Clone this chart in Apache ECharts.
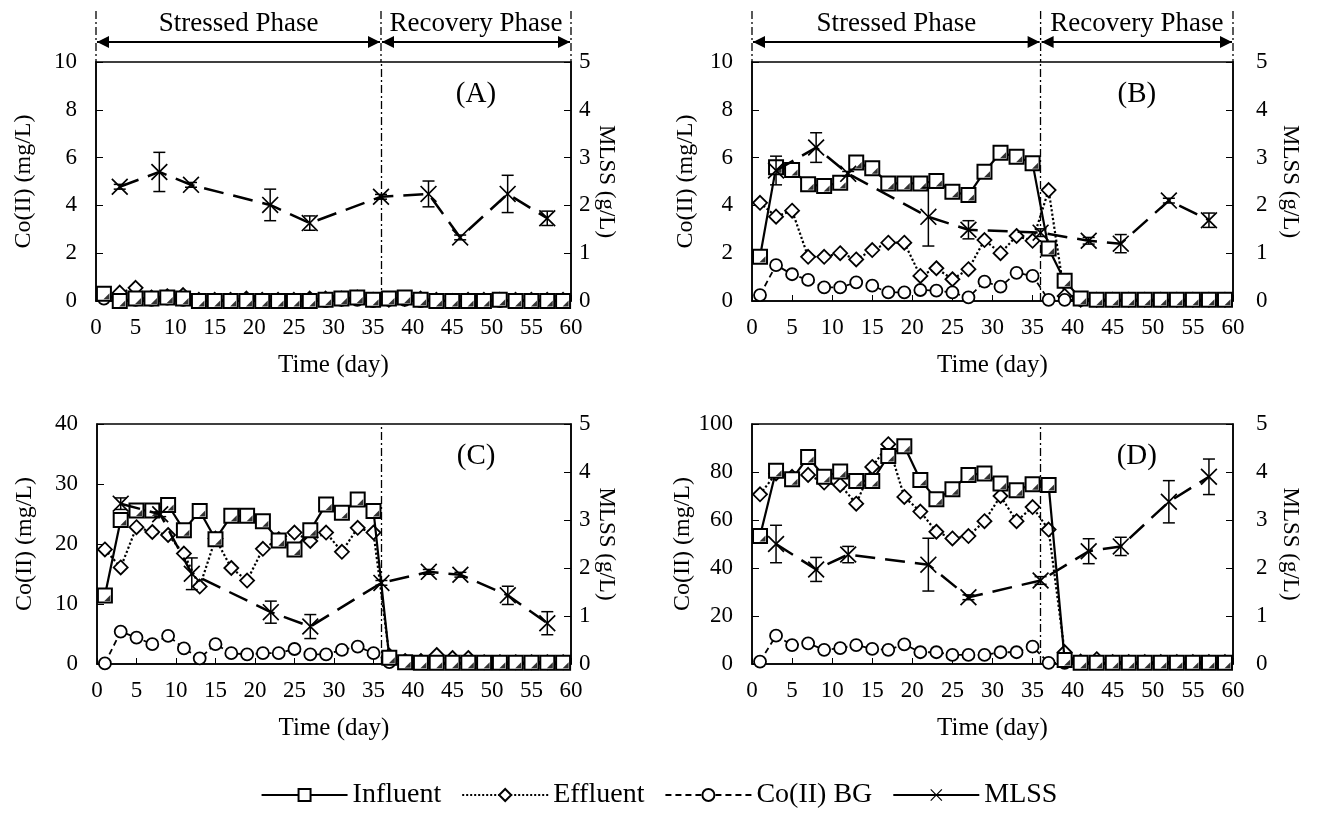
<!DOCTYPE html>
<html>
<head>
<meta charset="utf-8">
<script src="https://cdn.jsdelivr.net/npm/echarts@6/dist/echarts.min.js"></script>
<style>
  html, body { margin: 0; padding: 0; background: #fff; }
  #main { width: 1318px; height: 814px; }
</style>
</head>
<body>
<div id="main"></div>
<script>
// sampling days
var days = [1, 3, 5, 7, 9, 11, 13, 15, 17, 19, 21, 23, 25, 27, 29, 31, 33, 35,
            37, 39, 41, 43, 45, 47, 49, 51, 53, 55, 57, 59];
var mlssDays = [3, 8, 12, 22, 27, 36, 42, 46, 52, 57];
var phaseDay = 36;
var panelLabels = ['(A)', '(B)', '(C)', '(D)'];
var leftMax = [10, 10, 40, 100];
var leftStep = [2, 2, 10, 20];
var xTicks = [0, 60, 5];

// (A)
var influentA = [0.3, 0.0, 0.1, 0.1, 0.15, 0.1, 0.0, 0.0, 0.0, 0.0, 0.0, 0.0, 0.0, 0.0, 0.05, 0.1, 0.15, 0.05,
                 0.1, 0.15, 0.05, 0.0, 0.0, 0.0, 0.0, 0.05, 0.0, 0.0, 0.0, 0.0];
var effluentA = [0.2, 0.35, 0.55, 0.15, 0.2, 0.25, 0.05, 0.05, 0.05, 0.1, 0.05, 0.05, 0.05, 0.1, 0.1, 0.1, 0.15, 0.05,
                 0.05, 0.1, 0.1, 0.05, 0.0, 0.05, 0.05, 0.05, 0.05, 0.05, 0.05, 0.05];
var bgA = [0.1, 0.05, 0.05, 0.05, 0.1, 0.05, 0.0, 0.0, 0.0, 0.0, 0.0, 0.0, 0.0, 0.0, 0.0, 0.05, 0.05, 0.0,
           0.05, 0.05, 0.0, 0.0, 0.0, 0.0, 0.0, 0.0, 0.0, 0.0, 0.0, 0.0];
var mlssA = [2.39, 2.7, 2.43, 2.01, 1.63, 2.18, 2.24, 1.33, 2.24, 1.73];
var mlssErrA = [0.05, 0.41, 0.05, 0.33, 0.15, 0.05, 0.27, 0.05, 0.39, 0.15];

// (B)
var influentB = [1.85, 5.6, 5.48, 4.88, 4.81, 4.95, 5.79, 5.55, 4.92, 4.92, 4.92, 5.02, 4.57, 4.43, 5.41, 6.2, 6.04, 5.76,
                 2.2, 0.85, 0.1, 0.05, 0.05, 0.05, 0.05, 0.05, 0.05, 0.05, 0.05, 0.05];
var effluentB = [4.11, 3.53, 3.78, 1.85, 1.85, 2.0, 1.74, 2.13, 2.44, 2.44, 1.05, 1.37, 0.91, 1.33, 2.55, 2.0, 2.72, 2.52,
                 4.64, 0.21, 0.05, 0.05, 0.05, 0.05, 0.05, 0.05, 0.05, 0.05, 0.05, 0.05];
var bgB = [0.25, 1.5, 1.12, 0.88, 0.57, 0.57, 0.78, 0.64, 0.36, 0.36, 0.46, 0.43, 0.36, 0.15, 0.81, 0.6, 1.18, 1.05,
           0.05, 0.05, 0.05, 0.05, 0.05, 0.05, 0.05, 0.05, 0.05, 0.05, 0.05, 0.05];
var mlssB = [2.73, 3.21, 2.66, 1.76, 1.49, 1.43, 1.26, 1.2, 2.1, 1.69];
var mlssErrB = [0.3, 0.31, 0.05, 0.61, 0.19, 0.08, 0.07, 0.19, 0.05, 0.15];

// (C)
var influentC = [11.4, 24.0, 25.6, 25.6, 26.5, 22.3, 25.5, 20.8, 24.7, 24.7, 23.8, 20.6, 19.1, 22.3, 26.6, 25.2, 27.4, 25.5,
                 1.05, 0.3, 0.2, 0.2, 0.2, 0.2, 0.2, 0.2, 0.2, 0.2, 0.2, 0.2];
var effluentC = [19.1, 16.1, 22.8, 22.0, 21.5, 18.4, 12.9, 20.9, 16.0, 13.9, 19.2, 20.8, 21.9, 20.5, 21.9, 18.7, 22.7, 21.9,
                 1.4, 0.5, 0.5, 1.5, 1.0, 1.0, 0.3, 0.3, 0.3, 0.3, 0.3, 0.3];
var bgC = [0.1, 5.4, 4.4, 3.3, 4.7, 2.6, 0.95, 3.3, 1.8, 1.6, 1.8, 1.8, 2.5, 1.6, 1.6, 2.35, 2.9, 1.8,
           0.3, 0.2, 0.2, 0.2, 0.2, 0.2, 0.2, 0.2, 0.2, 0.2, 0.2, 0.2];
var mlssC = [3.34, 3.12, 1.88, 1.08, 0.78, 1.69, 1.92, 1.86, 1.43, 0.85];
var mlssErrC = [0.12, 0.05, 0.33, 0.23, 0.25, 0.05, 0.05, 0.05, 0.19, 0.24];

// (D)
var influentD = [53.3, 80.5, 77.0, 86.3, 78.0, 80.2, 76.3, 76.3, 86.7, 90.7, 76.7, 68.6, 72.8, 78.8, 79.4, 75.2, 72.4, 74.9,
                 74.6, 1.7, 0.5, 0.5, 0.5, 0.5, 0.5, 0.5, 0.5, 0.5, 0.5, 0.5];
var effluentD = [70.7, 79.4, 78.0, 78.8, 75.6, 74.6, 66.8, 82.1, 91.6, 69.6, 63.5, 55.1, 52.3, 53.3, 59.5, 70.0, 59.5, 65.4,
                 56.0, 4.9, 1.0, 2.0, 0.8, 0.8, 0.8, 0.8, 0.8, 0.8, 0.8, 0.8];
var bgD = [1.0, 11.8, 7.9, 8.6, 5.9, 6.6, 7.9, 6.3, 5.9, 8.2, 4.9, 4.9, 3.8, 3.8, 3.8, 4.9, 4.9, 7.2,
           0.5, 0.5, 0.5, 0.5, 0.5, 0.5, 0.5, 0.5, 0.5, 0.5, 0.5, 0.5];
var mlssD = [2.5, 1.97, 2.28, 2.07, 1.39, 1.74, 2.35, 2.45, 3.38, 3.9];
var mlssErrD = [0.39, 0.25, 0.17, 0.55, 0.05, 0.08, 0.26, 0.19, 0.44, 0.37];

var panels = [
    { inf: influentA, eff: effluentA, bg: bgA, mlss: mlssA, err: mlssErrA },
    { inf: influentB, eff: effluentB, bg: bgB, mlss: mlssB, err: mlssErrB },
    { inf: influentC, eff: effluentC, bg: bgC, mlss: mlssC, err: mlssErrC },
    { inf: influentD, eff: effluentD, bg: bgD, mlss: mlssD, err: mlssErrD }
];

var FONT = '"Liberation Serif", "DejaVu Serif", serif';
var xSymbol = 'path://M0,0.7L0.7,0L5,4.3L9.3,0L10,0.7L5.7,5L10,9.3L9.3,10L5,5.7L0.7,10L0,9.3L4.3,5Z';

var grids = [
    { left: 96, top: 62, width: 475, height: 239 },
    { left: 752, top: 62, width: 481, height: 239 },
    { left: 97, top: 424, width: 474, height: 240 },
    { left: 752, top: 424, width: 481, height: 240 }
];

function zip(xs, ys) {
    return xs.map(function(x, i) { return [x, ys[i]]; });
}

var xAxes = [], yAxes = [], series = [];

grids.forEach(function(g, i) {
    g.show = true;
    g.borderColor = '#000';
    g.borderWidth = 1.5;
    g.containLabel = false;

    xAxes.push({
        type: 'value', gridIndex: i, min: xTicks[0], max: xTicks[1], interval: xTicks[2],
        name: 'Time (day)', nameLocation: 'middle', nameGap: 52,
        nameTextStyle: { fontFamily: FONT, fontSize: 25, color: '#000' },
        axisLine: { lineStyle: { color: '#000', width: 1.5 } },
        axisTick: { inside: true, length: 6, lineStyle: { color: '#000' } },
        axisLabel: { fontFamily: FONT, fontSize: 23, color: '#000', margin: 15 },
        splitLine: { show: false }
    });
    var rightSide = (i % 2 === 1);
    yAxes.push({
        type: 'value', gridIndex: i, position: 'left', min: 0, max: leftMax[i], interval: leftStep[i],
        name: 'Co(II) (mg/L)', nameLocation: 'middle', nameGap: rightSide ? 54 : 60,
        nameTextStyle: { fontFamily: FONT, fontSize: 24, color: '#000' },
        axisLine: { show: true, lineStyle: { color: '#000', width: 1.5 } },
        axisTick: { show: true, inside: true, length: 7, lineStyle: { color: '#000' } },
        axisLabel: { fontFamily: FONT, fontSize: 23, color: '#000', margin: 19 },
        splitLine: { show: false }
    });
    yAxes.push({
        type: 'value', gridIndex: i, position: 'right', min: 0, max: 5, interval: 1,
        name: 'MLSS (g/L)', nameLocation: 'middle', nameRotate: -90, nameGap: rightSide ? 46 : 22,
        nameTextStyle: { fontFamily: FONT, fontSize: 23, color: '#000' },
        axisLine: { show: true, lineStyle: { color: '#000', width: 1.5 } },
        axisTick: { show: true, inside: true, length: 7, lineStyle: { color: '#000' } },
        axisLabel: { fontFamily: FONT, fontSize: 23, color: '#000', margin: rightSide ? 23 : 8 },
        splitLine: { show: false }
    });

    var p = panels[i];
    series.push({
        name: 'Influent', type: 'line', xAxisIndex: i, yAxisIndex: 2 * i,
        data: zip(days, p.inf), symbol: 'rect', symbolSize: 14, z: 4,
        lineStyle: { color: '#000', width: 2.2 },
        itemStyle: { color: '#fff', borderColor: '#000', borderWidth: 2 },
        markLine: {
            silent: true, symbol: ['none', 'none'], label: { show: false },
            lineStyle: { color: '#000', width: 1.3, type: [8, 3, 2, 3] },
            data: [{ xAxis: phaseDay }]
        }
    });
    // black corner inside the influent squares
    series.push({
        type: 'scatter', xAxisIndex: i, yAxisIndex: 2 * i, z: 4, silent: true,
        data: zip(days, p.inf), symbol: 'path://M10,0L10,10L0,10Z', symbolSize: 6,
        symbolOffset: [2.5, 2.5], itemStyle: { color: '#000' }
    });
    series.push({
        name: 'Effluent', type: 'line', xAxisIndex: i, yAxisIndex: 2 * i,
        data: zip(days, p.eff), symbol: 'diamond', symbolSize: 14, z: 3,
        lineStyle: { color: '#000', width: 2.2, type: 'dotted' },
        itemStyle: { color: '#fff', borderColor: '#000', borderWidth: 1.8 }
    });
    series.push({
        name: 'Co(II) BG', type: 'line', xAxisIndex: i, yAxisIndex: 2 * i,
        data: zip(days, p.bg), symbol: 'circle', symbolSize: 12, z: 3,
        lineStyle: { color: '#000', width: 1.8, type: [6, 4] },
        itemStyle: { color: '#fff', borderColor: '#000', borderWidth: 1.8 }
    });
    series.push({
        name: 'MLSS', type: 'line', xAxisIndex: i, yAxisIndex: 2 * i + 1,
        data: zip(mlssDays, p.mlss), symbol: xSymbol, symbolSize: 17, z: 5,
        lineStyle: { color: '#000', width: 2.5, type: [20, 10] },
        itemStyle: { color: '#000' }
    });
    // error bars on MLSS
    series.push({
        type: 'custom', xAxisIndex: i, yAxisIndex: 2 * i + 1, z: 5, silent: true,
        data: mlssDays.map(function(d, k) { return [d, p.mlss[k] - p.err[k], p.mlss[k] + p.err[k]]; }),
        renderItem: function(params, api) {
            var lo = api.coord([api.value(0), api.value(1)]);
            var hi = api.coord([api.value(0), api.value(2)]);
            var w = 6;
            var st = { stroke: '#000', lineWidth: 1.5 };
            return {
                type: 'group',
                children: [
                    { type: 'line', shape: { x1: lo[0], y1: lo[1], x2: hi[0], y2: hi[1] }, style: st },
                    { type: 'line', shape: { x1: lo[0] - w, y1: lo[1], x2: lo[0] + w, y2: lo[1] }, style: st },
                    { type: 'line', shape: { x1: hi[0] - w, y1: hi[1], x2: hi[0] + w, y2: hi[1] }, style: st }
                ]
            };
        }
    });
});

var chart = echarts.init(document.getElementById('main'));
chart.setOption({
    backgroundColor: '#fff',
    animation: false,
    textStyle: { fontFamily: FONT },
    grid: grids,
    xAxis: xAxes,
    yAxis: yAxes,
    legend: {
        data: ['Influent', 'Effluent', 'Co(II) BG', { name: 'MLSS', lineStyle: { type: 'solid' } }],
        left: 'center', top: 776,
        itemWidth: 86, itemHeight: 15, itemGap: 20,
        textStyle: { fontFamily: FONT, fontSize: 28, color: '#000' }
    },
    series: series
});

// phase annotations and panel labels
var graphics = [];
var dashDot = [8, 3, 2, 3];
[0, 1].forEach(function(i) {
    var x0 = chart.convertToPixel({ xAxisIndex: i }, 0);
    var xm = chart.convertToPixel({ xAxisIndex: i }, phaseDay);
    var x1 = chart.convertToPixel({ xAxisIndex: i }, 60);
    var yTop = chart.convertToPixel({ yAxisIndex: 2 * i }, leftMax[i]);
    var yLine = yTop - 51, yArr = yTop - 20, yTxt = yTop - 38;
    [x0, xm, x1].forEach(function(x) {
        graphics.push({ type: 'line', shape: { x1: x, y1: yLine, x2: x, y2: yTop },
            style: { stroke: '#000', lineWidth: 1.3, lineDash: dashDot } });
    });
    [[x0, xm], [xm, x1]].forEach(function(seg) {
        var a = seg[0] + 1, b = seg[1] - 1;
        graphics.push({ type: 'line', shape: { x1: a, y1: yArr, x2: b, y2: yArr },
            style: { stroke: '#000', lineWidth: 2.2 } });
        graphics.push({ type: 'polygon', shape: { points: [[a, yArr], [a + 12, yArr - 6], [a + 12, yArr + 6]] },
            style: { fill: '#000' } });
        graphics.push({ type: 'polygon', shape: { points: [[b, yArr], [b - 12, yArr - 6], [b - 12, yArr + 6]] },
            style: { fill: '#000' } });
    });
    graphics.push({ type: 'text', x: (x0 + xm) / 2, y: yTxt,
        style: { text: 'Stressed Phase', font: '27px ' + FONT, fill: '#000', textAlign: 'center', textVerticalAlign: 'middle' } });
    graphics.push({ type: 'text', x: (xm + x1) / 2, y: yTxt,
        style: { text: 'Recovery Phase', font: '27px ' + FONT, fill: '#000', textAlign: 'center', textVerticalAlign: 'middle' } });
});
[0, 1, 2, 3].forEach(function(i) {
    var pt = chart.convertToPixel({ gridIndex: i }, [48, leftMax[i] * 0.865]);
    graphics.push({ type: 'text', x: pt[0], y: pt[1],
        style: { text: panelLabels[i], font: '29px ' + FONT, fill: '#000', textAlign: 'center', textVerticalAlign: 'middle' } });
});
chart.setOption({ graphic: graphics });
</script>
</body>
</html>
